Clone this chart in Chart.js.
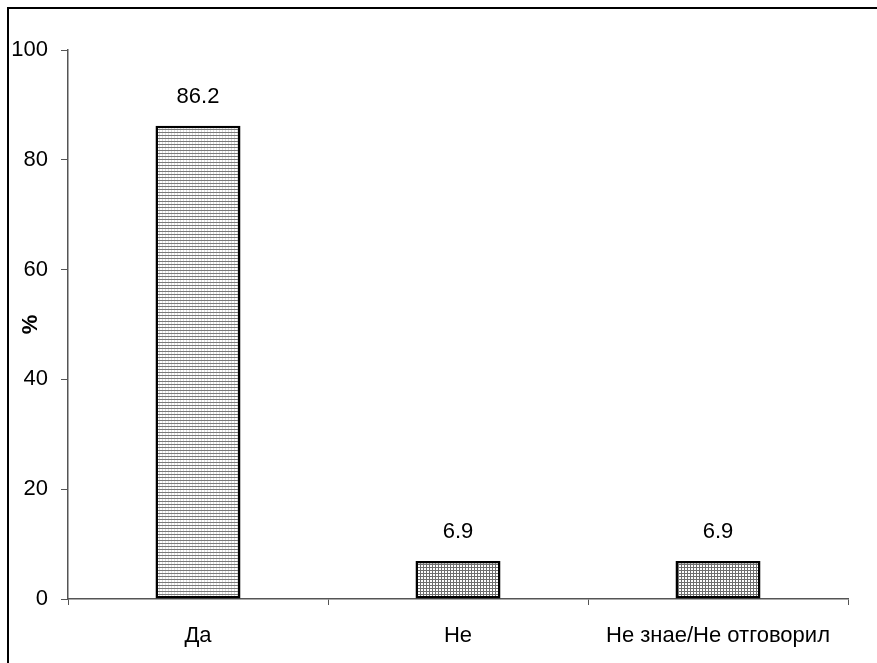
<!DOCTYPE html>
<html>
<head>
<meta charset="utf-8">
<script src="https://cdn.jsdelivr.net/npm/chart.js@4/dist/chart.umd.min.js"></script>
<style>
  html, body { margin: 0; padding: 0; background: #fff; }
  #wrap { position: relative; width: 877px; height: 663px; }
  canvas { display: block; }
</style>
</head>
<body>
<div id="wrap"><canvas id="c" width="877" height="663"></canvas></div>
<script>
const categories = ['Да', 'Не', 'Не знае/Не отговорил'];
const values = [86.2, 6.9, 6.9];
const valueLabels = ['86.2', '6.9', '6.9'];
const yTicks = [0, 20, 40, 60, 80, 100];
const yTitle = '%';

function makePattern(kind) {
  const c = document.createElement('canvas');
  c.width = 3; c.height = 3;
  const g = c.getContext('2d');
  g.fillStyle = '#ffffff';
  g.fillRect(0, 0, 3, 3);
  if (kind === 'horiz') {
    g.fillStyle = '#dcdcdc';
    g.fillRect(0, 0, 1, 3);
    g.fillStyle = '#7a7a7a';
    g.fillRect(0, 0, 3, 1);
  } else {
    g.fillStyle = '#6e6e6e';
    g.fillRect(0, 0, 3, 1);
    g.fillRect(0, 0, 1, 3);
  }
  return document.getElementById('c').getContext('2d').createPattern(c, 'repeat');
}

const fills = [makePattern('horiz'), makePattern('grid'), makePattern('grid')];
const FONT = "'Liberation Sans', Arial, sans-serif";
const FS = 22;

const frame = {
  id: 'frame',
  beforeDraw(chart) {
    const ctx = chart.ctx;
    ctx.save();
    ctx.fillStyle = '#fff';
    ctx.fillRect(0, 0, chart.width, chart.height);
    ctx.strokeStyle = '#000';
    ctx.lineWidth = 2;
    ctx.beginPath();
    ctx.moveTo(8, chart.height + 2);
    ctx.lineTo(8, 8);
    ctx.lineTo(chart.width + 2, 8);
    ctx.stroke();
    ctx.restore();
  }
};

const valueLabelPlugin = {
  id: 'valueLabels',
  afterDatasetsDraw(chart) {
    const ctx = chart.ctx;
    const meta = chart.getDatasetMeta(0);
    ctx.save();
    ctx.font = FS + 'px ' + FONT;
    ctx.fillStyle = '#000';
    ctx.textAlign = 'center';
    ctx.textBaseline = 'middle';
    meta.data.forEach((bar, i) => {
      ctx.fillText(valueLabels[i], bar.x, bar.y - 29);
    });
    ctx.restore();
  }
};

new Chart(document.getElementById('c'), {
  type: 'bar',
  data: {
    labels: categories,
    datasets: [{
      data: values,
      backgroundColor: fills,
      borderColor: '#000',
      borderWidth: 2.5,
      borderSkipped: false,
      barPercentage: 0.327,
      categoryPercentage: 1
    }]
  },
  options: {
    responsive: false,
    animation: false,
    devicePixelRatio: 1,
    layout: { padding: { left: 8, top: 50, right: 29, bottom: 0 } },
    plugins: {
      legend: { display: false },
      tooltip: { enabled: false }
    },
    scales: {
      x: {
        offset: true,
        grid: {
          offset: true,
          drawOnChartArea: false,
          drawTicks: true,
          tickLength: 6,
          color: '#555'
        },
        border: { display: true, color: '#555', width: 1.5 },
        ticks: {
          color: '#000',
          font: { family: FONT, size: FS },
          padding: 18,
          maxRotation: 0,
          autoSkip: false
        },
        afterFit(scale) { scale.height = 64; }
      },
      y: {
        min: 0,
        max: 100,
        afterBuildTicks(scale) { scale.ticks = yTicks.map(v => ({ value: v })); },
        grid: {
          drawOnChartArea: false,
          drawTicks: true,
          tickLength: 7,
          color: '#555'
        },
        border: { display: true, color: '#555', width: 1.5 },
        ticks: {
          color: '#000',
          font: { family: FONT, size: FS },
          padding: 13
        },
        title: {
          display: true,
          text: yTitle,
          color: '#000',
          font: { family: FONT, size: FS, weight: 'bold' },
          padding: { top: 10, bottom: 0 }
        },
        afterFit(scale) { scale.width = 60; }
      }
    }
  },
  plugins: [frame, valueLabelPlugin]
});
</script>
</body>
</html>
